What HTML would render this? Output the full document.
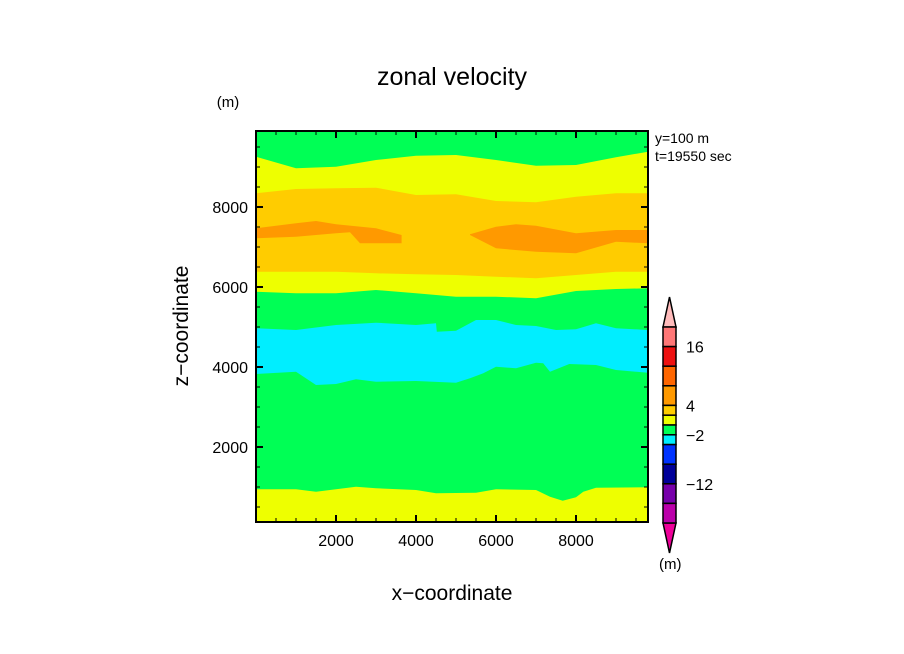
<!DOCTYPE html>
<html><head><meta charset="utf-8"><style>
body{margin:0;background:#fff}
svg{display:block;font-family:"Liberation Sans",sans-serif}
</style></head><body>
<svg id="chart" width="904" height="654" viewBox="0 0 904 654">
<text x="452" y="85" text-anchor="middle" font-size="25">zonal velocity</text>
<text x="228" y="107" text-anchor="middle" font-size="15">(m)</text>
<text x="655" y="143" font-size="14">y=100 m</text>
<text x="655" y="161" font-size="14">t=19550 sec</text>
<text x="452" y="600" text-anchor="middle" font-size="21">x−coordinate</text>
<text transform="translate(188,326) rotate(-90)" text-anchor="middle" font-size="21">z−coordinate</text>
<text x="659" y="569" font-size="15">(m)</text>
<g id="plot"></g>
<g id="axes"></g>
<g id="cbar"></g>
</svg>
<script>
// data arrays (x in m, z in m)
const xTicks=[2000,4000,6000,8000];
const zTicks=[2000,4000,6000,8000];
const xsStd=[0,1000,2000,3000,4000,5000,6000,7000,8000,9000,9800];
const topGreenYellowZ=[9258,8967,9008,9175,9283,9300,9175,9033,9050,9242,9383];
const yellowGoldZ=[8342,8450,8467,8483,8300,8317,8150,8117,8258,8342,8342];
const goldYellowZ=[6383,6383,6383,6342,6317,6300,6258,6217,6300,6383,6383];
const yellowGreenZ=[5883,5842,5842,5925,5842,5758,5758,5717,5900,5950,5967];
const blobAX=[0,1000,1500,2000,3000,3640,3640,2600,2350,2000,1000,0];
const blobAZ=[7467,7592,7650,7567,7467,7300,7092,7092,7367,7342,7258,7217];
const blobBX=[5350,6000,6500,7000,8000,9000,9800,9800,9000,8000,7000,6000,5350];
const blobBZ=[7317,7508,7567,7533,7342,7425,7425,7092,7133,6842,6883,6967,7300];
const cyanTopX=[0,1000,2000,3000,4000,4500,4520,5000,5500,6000,6500,7000,7500,8000,8500,9000,9800];
const cyanTopZ=[4967,4925,5050,5108,5050,5092,4883,4908,5175,5175,5050,5025,4925,4942,5092,4967,4925];
const cyanBotX=[0,1000,1500,2000,2500,3000,4000,5000,5350,5683,6000,6500,7000,7180,7350,7833,8500,9000,9800];
const cyanBotZ=[3825,3883,3550,3575,3692,3633,3650,3608,3717,3842,4008,3967,4108,4092,3883,4075,4050,3925,3858];
const botYellowX=[0,1000,1500,2000,2500,3000,4000,4500,5500,6000,7000,7350,7667,8000,8183,8500,9800];
const botYellowZ=[942,942,883,942,1008,967,925,842,858,942,925,758,658,742,883,983,992];
const cbColors=["#ff7777","#ee1111","#ff6600","#ff9900","#ffcc00","#eeff00","#00ff55","#00eeff","#0033ff","#000099","#7700aa","#bb00aa"];
const cbWeights=[2,2,2,2,1,1,1,1,2,2,2,2];
const cbLabels=[["16",1],["4",4],["−2",7],["−12",10]];

const NS="http://www.w3.org/2000/svg";
const X0=256,X1=648,XMAX=9800;
const sx=x=>X0+x/XMAX*(X1-X0);
const sz=z=>527-z/25;
const ZTOP=9900,ZBOT=125;
function mk(tag,attrs,parent){const e=document.createElementNS(NS,tag);for(const k in attrs)e.setAttribute(k,attrs[k]);parent.appendChild(e);return e;}
const plot=document.getElementById('plot');
function line(xs,zs){return xs.map((x,i)=>sx(x).toFixed(1)+','+sz(zs[i]).toFixed(1));}
function band(uX,uZ,lX,lZ,color,name){
  const pts=line(uX,uZ).concat(line(lX,lZ).reverse());
  const p=mk('polygon',{points:pts.join(' '),fill:color},plot);
  
  
}
const bg=mk('rect',{x:X0,y:sz(ZTOP),width:X1-X0,height:sz(ZBOT)-sz(ZTOP),fill:'#00ff55'},plot);


band(xsStd,topGreenYellowZ,xsStd,yellowGreenZ,'#eeff00','upper-yellow-band');
band(xsStd,yellowGoldZ,xsStd,goldYellowZ,'#ffcc00','gold-band');
{const p=mk('polygon',{points:line(blobAX,blobAZ).join(' '),fill:'#ff9900'},plot);

}
{const p=mk('polygon',{points:line(blobBX,blobBZ).join(' '),fill:'#ff9900'},plot);

}
band(cyanTopX,cyanTopZ,cyanBotX,cyanBotZ,'#00eeff','cyan-band');
band(botYellowX,botYellowZ,[0,XMAX],[ZBOT,ZBOT],'#eeff00','lower-yellow-band');

const axes=document.getElementById('axes');
const fr=mk('rect',{x:X0,y:sz(ZTOP),width:X1-X0,height:sz(ZBOT)-sz(ZTOP),fill:'none',stroke:'#000','stroke-width':2},axes);


for(let v=500;v<XMAX;v+=500){
  const L=v%2000===0?7:4,x=sx(v);
  mk('line',{x1:x,x2:x,y1:sz(ZBOT),y2:sz(ZBOT)-L,stroke:'#000','stroke-width':v%2000===0?2:1},axes);
  mk('line',{x1:x,x2:x,y1:sz(ZTOP),y2:sz(ZTOP)+L,stroke:'#000','stroke-width':v%2000===0?2:1},axes);
}
for(let v=500;v<ZTOP;v+=500){
  const L=v%2000===0?7:4,y=sz(v);
  mk('line',{x1:X0,x2:X0+L,y1:y,y2:y,stroke:'#000','stroke-width':v%2000===0?2:1},axes);
  mk('line',{x1:X1,x2:X1-L,y1:y,y2:y,stroke:'#000','stroke-width':v%2000===0?2:1},axes);
}
xTicks.forEach(v=>{const t=mk('text',{x:sx(v),y:546,'text-anchor':'middle','font-size':16},axes);t.textContent=v;

});
zTicks.forEach(v=>{const t=mk('text',{x:248,y:sz(v)+6,'text-anchor':'end','font-size':16},axes);t.textContent=v;

});

const cb=document.getElementById('cbar');
const CX=663,CW=13,CY0=327,CY1=523;
const unit=(CY1-CY0)/cbWeights.reduce((a,b)=>a+b,0);
const segTop=[];let acc=CY0;cbWeights.forEach(w=>{segTop.push(acc);acc+=w*unit;});
const tt=mk('polygon',{points:`${CX},${CY0} ${CX+CW/2},297 ${CX+CW},${CY0}`,fill:'#ffbbbb',stroke:'#000','stroke-width':1.5},cb);


const tb=mk('polygon',{points:`${CX},${CY1} ${CX+CW/2},553 ${CX+CW},${CY1}`,fill:'#ee0099',stroke:'#000','stroke-width':1.5},cb);


cbColors.forEach((c,i)=>{const r=mk('rect',{x:CX,y:segTop[i],width:CW,height:cbWeights[i]*unit,fill:c,stroke:'#000','stroke-width':1.5},cb);

});
cbLabels.forEach(([s,i])=>{const t=mk('text',{x:686,y:segTop[i]+6,'font-size':16},cb);t.textContent=s;

});
</script>
</body></html>
